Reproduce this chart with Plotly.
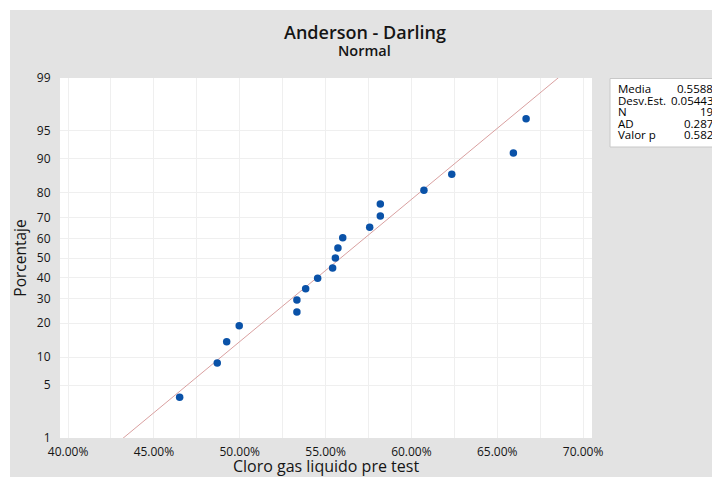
import plotly.graph_objects as go
from statistics import NormalDist

# ---- data ----
cloro_values = [0.4650, 0.4869, 0.4924, 0.4997, 0.5333, 0.5333, 0.5384, 0.5454,
                0.5541, 0.5557, 0.5572, 0.5600, 0.5757, 0.5819, 0.5819, 0.6073,
                0.6235, 0.6594, 0.6668]
percent_values = [3.608, 8.763, 13.918, 19.072, 24.227, 29.381, 34.536, 39.691,
                  44.845, 50.0, 55.155, 60.309, 65.464, 70.619, 75.773, 80.928,
                  86.082, 91.237, 96.392]
y_tick_percents = [1, 5, 10, 20, 30, 40, 50, 60, 70, 80, 90, 95, 99]
x_tick_values = [0.40, 0.45, 0.50, 0.55, 0.60, 0.65, 0.70]
stat_labels = ["Media", "Desv.Est.", "N", "AD", "Valor p"]
stat_values = ["0.5588", "0.05443", "19", "0.287", "0.582"]
MEAN = 0.5588
SD = 0.05443

nd = NormalDist()
y_pts = [nd.inv_cdf(p / 100.0) for p in percent_values]
y_ticks = [nd.inv_cdf(p / 100.0) for p in y_tick_percents]
z_lo, z_hi = nd.inv_cdf(0.01), nd.inv_cdf(0.99)

# layout geometry (pixels)
W, H = 712, 477
L, R, T, B = 60, 592, 78, 438
def px(x):
    return (x - L) / (R - L)
def py(y):
    return (B - y) / (B - T)

FONT = "Open Sans"
TXT = "#151515"

fig = go.Figure()
fig.add_trace(go.Scatter(
    x=[MEAN + SD * (z_lo - 0.2), MEAN + SD * (z_hi + 0.2)],
    y=[z_lo - 0.2, z_hi + 0.2],
    mode="lines", line=dict(color="#d9a0a0", width=1), hoverinfo="skip",
    showlegend=False))
fig.add_trace(go.Scatter(
    x=cloro_values, y=y_pts, mode="markers",
    marker=dict(color="#0a52a8", size=7.5), showlegend=False))

shapes = [
    # white outer strips (top and left)
    dict(type="rect", xref="paper", yref="paper", x0=px(-5), x1=px(W + 5),
         y0=py(10), y1=py(-5), fillcolor="white", line=dict(width=0), layer="below"),
    dict(type="rect", xref="paper", yref="paper", x0=px(-5), x1=px(10),
         y0=py(H + 5), y1=py(-5), fillcolor="white", line=dict(width=0), layer="below"),
    # statistics box
    dict(type="rect", xref="paper", yref="paper", x0=px(610), x1=px(W + 20),
         y0=py(147), y1=py(78.5), fillcolor="white",
         line=dict(color="#c8c8c8", width=1), layer="above"),
]

annotations = [
    dict(text="Anderson - Darling", x=px(365), y=py(32), xref="paper", yref="paper",
         showarrow=False, xanchor="center", yanchor="middle",
         font=dict(family=FONT, size=18, weight=600, color=TXT)),
    dict(text="Normal", x=px(364), y=py(50), xref="paper", yref="paper",
         showarrow=False, xanchor="center", yanchor="middle",
         font=dict(family=FONT, size=14.5, weight=600, color=TXT)),
]
row_y = [88.5, 100, 111.5, 123, 134.5]
for lab, val, ry in zip(stat_labels, stat_values, row_y):
    annotations.append(dict(text=lab, x=px(616), y=py(ry), xref="paper", yref="paper",
                            showarrow=False, xanchor="left", yanchor="middle",
                            font=dict(family=FONT, size=11.5, color="#000")))
    annotations.append(dict(text=val, x=px(715), y=py(ry), xref="paper", yref="paper",
                            showarrow=False, xanchor="right", yanchor="middle",
                            font=dict(family=FONT, size=11.5, color="#000")))

fig.update_layout(
    width=W, height=H,
    margin=dict(l=L, r=W - R, t=T, b=H - B, pad=0, autoexpand=False),
    paper_bgcolor="#e3e3e3", plot_bgcolor="white",
    shapes=shapes, annotations=annotations,
    font=dict(family=FONT, color=TXT),
    xaxis=dict(range=[0.3953, 0.7052], tickvals=x_tick_values, tickformat=".2%",
               showgrid=True, gridcolor="#efefef", gridwidth=1,
               minor=dict(dtick=0.025, tick0=0.40, showgrid=True, gridcolor="#efefef"),
               zeroline=False, showline=False, ticks="outside", ticklen=3,
               tickcolor="#e3e3e3", automargin=False,
               tickfont=dict(family=FONT, size=12, weight=500, color=TXT),
               title=dict(text="Cloro gas liquido pre test", standoff=3,
                          font=dict(family=FONT, size=16, weight=500, color=TXT))),
    yaxis=dict(range=[z_lo, z_hi], tickvals=y_ticks,
               ticktext=[str(v) for v in y_tick_percents],
               showgrid=True, gridcolor="#efefef", gridwidth=1,
               zeroline=False, showline=False, ticks="outside", ticklen=6,
               tickcolor="#e3e3e3", automargin=False,
               tickfont=dict(family=FONT, size=12, weight=500, color=TXT),
               title=dict(text="Porcentaje", standoff=6,
                          font=dict(family=FONT, size=15.5, weight=500, color=TXT))),
)

fig.write_html("out.html")
